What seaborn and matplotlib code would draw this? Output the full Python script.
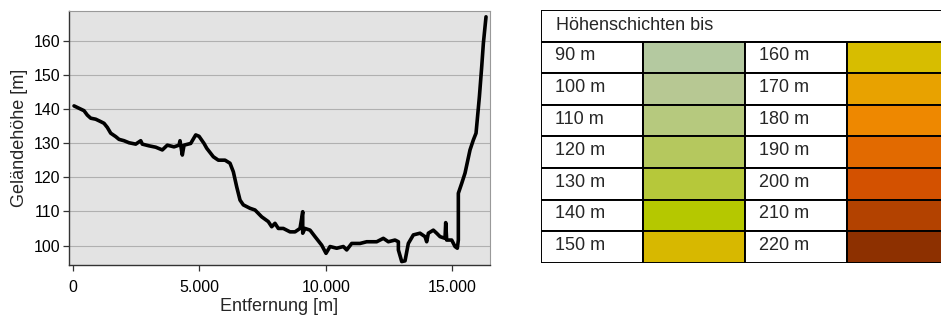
import numpy as np
import pandas as pd
import matplotlib
matplotlib.use("Agg")
import matplotlib.pyplot as plt
from matplotlib.patches import Rectangle
import seaborn as sns

# Höhenprofil (Entfernung in m, Geländehöhe in m)
distance = [40, 237, 435, 566, 700, 898, 1096, 1227, 1357, 1492, 1690, 1820, 2018, 2216,
            2481, 2679, 2742, 3008, 3273, 3534, 3732, 3997, 4195, 4234, 4325, 4393, 4657,
            4855, 4986, 5184, 5290, 5552, 5750, 6015, 6213, 6344, 6477, 6609, 6739, 7004,
            7202, 7467, 7728, 7862, 7993, 8124, 8322, 8587, 8785, 8983, 9090, 9090, 9181,
            9379, 9576, 9841, 10012, 10170, 10435, 10697, 10830, 11028, 11357, 11621,
            12017, 12280, 12478, 12742, 12875, 12875, 13008, 13138, 13269, 13467, 13731,
            13929, 13995, 14061, 14258, 14390, 14523, 14721, 14748, 14787, 14985, 15117,
            15208, 15248, 15248, 15381, 15512, 15710, 15841, 15948, 16081, 16173, 16238,
            16343]
height = [140.9, 140.2, 139.5, 138.2, 137.3, 137.0, 136.3, 135.8, 134.6, 132.9, 131.9,
          131.1, 130.7, 130.1, 129.7, 130.7, 129.7, 129.2, 128.8, 128.0, 129.4, 128.9,
          129.4, 130.7, 126.5, 129.4, 129.9, 132.4, 132.0, 129.9, 128.5, 126.0, 125.0,
          125.0, 124.1, 121.6, 117.2, 113.3, 111.9, 110.9, 110.4, 108.4, 107.0, 105.5,
          106.5, 105.0, 105.0, 104.0, 104.0, 105.0, 109.9, 103.6, 105.0, 104.5, 102.6,
          100.1, 97.7, 99.7, 99.2, 99.7, 98.7, 100.6, 100.6, 101.1, 101.1, 102.1, 101.1,
          101.6, 101.1, 98.7, 95.3, 95.5, 100.6, 103.1, 103.6, 102.6, 101.1, 103.6, 104.5,
          103.6, 102.6, 102.1, 106.7, 101.6, 101.6, 99.7, 99.2, 101.6, 115.3, 118.2,
          121.2, 128.0, 130.9, 132.9, 143.6, 152.4, 159.2, 167.0]

# Legende: Höhenschichten
levels_left = ["90 m", "100 m", "110 m", "120 m", "130 m", "140 m", "150 m"]
colors_left = ["#b4c9a0", "#b7c893", "#b6c97e", "#b5c85e", "#b6c83a", "#b5c800", "#d7b800"]
levels_right = ["160 m", "170 m", "180 m", "190 m", "200 m", "210 m", "220 m"]
colors_right = ["#d7bd00", "#e8a200", "#ee8800", "#e26a00", "#d35100", "#b34200", "#8d3000"]
legend_title = "Höhenschichten bis"

yticks = [100, 110, 120, 130, 140, 150, 160]
xticks = [0, 5000, 10000, 15000]

sns.set_theme(style="white")
plt.rcParams["font.family"] = ["Liberation Sans", "DejaVu Sans"]

fig = plt.figure(figsize=(9.41, 3.2), dpi=100)
ax = fig.add_axes([0.0733, 0.172, 0.4474, 0.7936])

df = pd.DataFrame({"Entfernung": distance, "Hoehe": height})
sns.lineplot(data=df, x="Entfernung", y="Hoehe", ax=ax, color="black", linewidth=2.6,
             sort=False, estimator=None)

ax.set_facecolor("#e3e3e3")
ax.set_xlim(-160, 16500)
ax.set_ylim(94.3, 168.7)
ax.set_yticks(yticks)
ax.set_xticks(xticks)
ax.set_xticklabels([f"{t:,}".replace(",", ".") for t in xticks])
ax.grid(axis="y", color="#b0b0b0", linewidth=0.8)
ax.set_axisbelow(True)
ax.tick_params(axis="both", direction="out", length=4, width=0.9, color="#333333",
               labelsize=11.5, labelcolor="black", bottom=True, left=True)
ax.tick_params(axis="x", pad=7)
ax.tick_params(axis="y", pad=2)
ax.set_xlabel("Entfernung [m]", fontsize=13, labelpad=2)
ax.set_ylabel("Geländehöhe [m]", fontsize=13, labelpad=4)
for side in ["left", "bottom"]:
    ax.spines[side].set_color("#333333")
    ax.spines[side].set_linewidth(1.0)
for side in ["top", "right"]:
    ax.spines[side].set_color("#999999")
    ax.spines[side].set_linewidth(0.8)

# Legende als Tabelle
tab = fig.add_axes([0.575, 0.178, 0.4336, 0.791])
n = len(levels_left)
tab.set_xlim(0, 4)
tab.set_ylim(n + 1, 0)
tab.axis("off")

tab.add_patch(Rectangle((0, 0), 4, 1, facecolor="white", edgecolor="black", linewidth=1.4))
tab.text(0.15, 0.5, legend_title, va="center", ha="left", fontsize=13)
for i in range(n):
    for c, (lab, col) in enumerate([(levels_left[i], colors_left[i]), (levels_right[i], colors_right[i])]):
        tab.add_patch(Rectangle((2 * c, i + 1), 1, 1, facecolor="white", edgecolor="black", linewidth=1.4))
        tab.add_patch(Rectangle((2 * c + 1, i + 1), 1, 1, facecolor=col, edgecolor="black", linewidth=1.4))
        tab.text(2 * c + 0.14, i + 1.45, lab, va="center", ha="left", fontsize=13)

fig.savefig("out.png", dpi=100)
